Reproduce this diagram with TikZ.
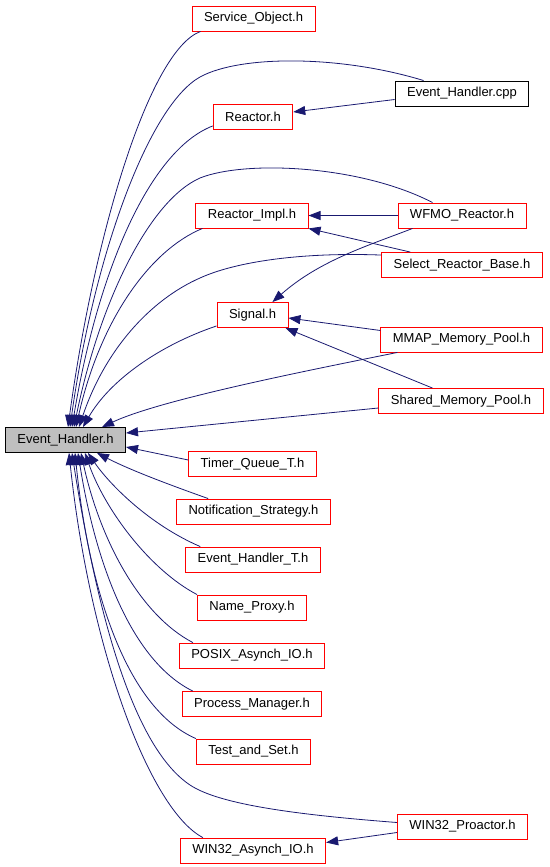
\documentclass[tikz,border=0pt]{standalone}
\usepackage{fontspec}
\setmainfont{Liberation Sans}
\usetikzlibrary{arrows.meta}
\definecolor{edgeblue}{RGB}{25,25,112}
\definecolor{hdrgrey}{RGB}{191,191,191}

\begin{document}
\begin{tikzpicture}[x=1pt,y=-1pt,
  hdr/.style={draw=red,line width=0.9pt,minimum height=25pt,inner xsep=12pt,inner ysep=0pt,font=\fontsize{13}{15}\selectfont},
  dep/.style={draw=edgeblue,line width=0.8pt,-{Triangle[length=12pt,width=9pt]}}]
\useasboundingbox (0,0) rectangle (549,867);

\node[hdr] (svc) at (253.5,18.5) {Service\_Object.h};
\node[hdr,draw=black] (cpp) at (462,93.5) {Event\_Handler.cpp};
\node[hdr] (reactor) at (253,117) {Reactor.h};
\node[hdr] (impl) at (252,215.5) {Reactor\_Impl.h};
\node[hdr] (wfmo) at (462,215.5) {WFMO\_Reactor.h};
\node[hdr] (select) at (462,265) {Select\_Reactor\_Base.h};
\node[hdr] (signal) at (252.5,315) {Signal.h};
\node[hdr] (mmap) at (461.5,339.5) {MMAP\_Memory\_Pool.h};
\node[hdr] (shared) at (461,401) {Shared\_Memory\_Pool.h};
\node[hdr,draw=black,fill=hdrgrey] (eh) at (65.5,440) {Event\_Handler.h};
\node[hdr] (timer) at (252.5,464) {Timer\_Queue\_T.h};
\node[hdr] (notif) at (253.5,511.5) {Notification\_Strategy.h};
\node[hdr] (eht) at (253,559.5) {Event\_Handler\_T.h};
\node[hdr] (proxy) at (252,607.5) {Name\_Proxy.h};
\node[hdr] (posix) at (252,655.5) {POSIX\_Asynch\_IO.h};
\node[hdr] (procm) at (252,704) {Process\_Manager.h};
\node[hdr] (tas) at (253.5,751.5) {Test\_and\_Set.h};
\node[hdr] (w32p) at (462.5,826.5) {WIN32\_Proactor.h};
\node[hdr] (w32a) at (253,850.5) {WIN32\_Asynch\_IO.h};

\draw[dep] ([xshift=9pt]svc.south west) .. controls (150,50) and (95,230) .. ([xshift=63pt]eh.north west);
\draw[dep] ([xshift=29pt]cpp.north west) .. controls (340,55) and (240,55) .. (200,77) .. controls (150,105) and (95,250) .. ([xshift=65pt]eh.north west);
\draw[dep] ([yshift=4pt]reactor.south west) .. controls (150,150) and (98,270) .. ([xshift=67pt]eh.north west);
\draw[dep] ([xshift=35pt]wfmo.north west) .. controls (360,165) and (245,160) .. (200,178) .. controls (150,200) and (100,300) .. ([xshift=69pt]eh.north west);
\draw[dep] ([xshift=7pt]impl.south west) .. controls (150,250) and (100,320) .. ([xshift=71pt]eh.north west);
\draw[dep] ([yshift=-3pt]select.north west) .. controls (300,252) and (235,262) .. (200,278) .. controls (150,300) and (105,350) .. ([xshift=74pt]eh.north west);
\draw[dep] ([yshift=2pt]signal.south west) .. controls (160,345) and (110,380) .. ([xshift=78pt]eh.north west);
\draw[dep] ([xshift=17pt]mmap.south west) .. controls (300,372) and (160,400) .. ([xshift=97pt]eh.north west);
\draw[dep] ([yshift=-7pt]shared.west) -- ([yshift=7pt]eh.east);
\draw[dep] ([yshift=4pt]timer.west) -- ([yshift=-7pt]eh.east);
\draw[dep] ([xshift=32pt]notif.north west) .. controls (170,485) and (130,470) .. ([xshift=-29pt]eh.south east);
\draw[dep] ([xshift=15pt]eht.north west) .. controls (150,525) and (110,485) .. ([xshift=83pt]eh.south west);
\draw[dep] (proxy.north west) .. controls (150,570) and (105,510) .. ([xshift=80pt]eh.south west);
\draw[dep] ([xshift=14pt]posix.north west) .. controls (140,615) and (100,540) .. ([xshift=76pt]eh.south west);
\draw[dep] ([xshift=11pt]procm.north west) .. controls (130,660) and (95,560) .. ([xshift=73pt]eh.south west);
\draw[dep] (tas.north west) .. controls (130,710) and (90,600) .. ([xshift=70pt]eh.south west);
\draw[dep] ([yshift=4pt]w32p.west) .. controls (300,815) and (220,805) .. (190,785) .. controls (130,745) and (95,600) .. ([xshift=67pt]eh.south west);
\draw[dep] ([xshift=23pt]w32a.north west) .. controls (150,810) and (90,650) .. ([xshift=64pt]eh.south west);

\draw[dep] ([yshift=-6pt]cpp.west) -- ([yshift=5pt]reactor.east);
\draw[dep] (wfmo.west) -- (impl.east);
\draw[dep] ([xshift=29pt]select.north west) -- (impl.south east);
\draw[dep] ([xshift=15pt]wfmo.south west) .. controls (370,245) and (320,260) .. ([xshift=-16pt]signal.north east);
\draw[dep] ([yshift=9pt]mmap.west) -- ([yshift=-3pt]signal.east);
\draw[dep] ([xshift=54pt]shared.north west) -- ([xshift=-3pt]signal.south east);
\draw[dep] ([yshift=-6pt]w32p.west) -- ([yshift=8pt]w32a.east);
\end{tikzpicture}
\end{document}
